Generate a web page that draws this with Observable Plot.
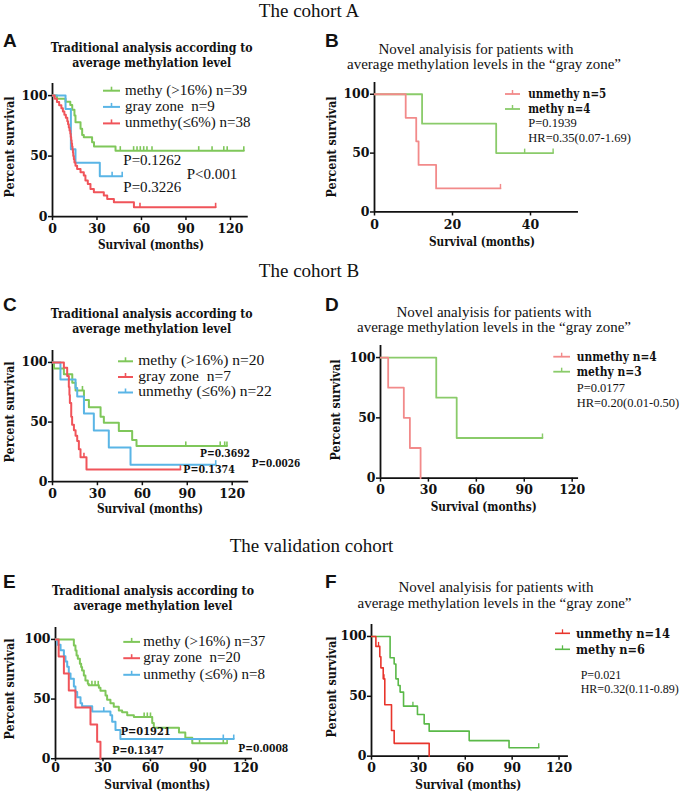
<!DOCTYPE html>
<html><head><meta charset="utf-8">
<script src="https://cdn.jsdelivr.net/npm/d3@7"></script>
<script src="https://cdn.jsdelivr.net/npm/@observablehq/plot@0.6"></script>
<style>
body{margin:0;background:#fff;}
#page{position:relative;width:685px;height:794px;overflow:hidden;background:#fff;}
#overlay{position:absolute;left:0;top:0;}
</style></head><body><div id="page"></div>
<script>
// ===== DATA (months, percent survival) =====
// Cohort A
const aMethySteps = [[0,100],[3,97.4],[8.8,94.9],[12,92.3],[13.3,88.4],[14.8,83.5],[15.5,78],[18.9,72.5],[20,67.5],[21.1,65.5],[26.7,61.5],[28,58],[42.5,54.5]];
const aMethyEnd = 129;
const aMethyCensor = [45.7,54.7,57,59.2,61.5,63.7,67.1,98.6,107.6,115.5,117.8,129];
const aGraySteps = [[0,100],[8.8,88.9],[12.4,55.6],[15.5,44.4],[31.9,33.3]];
const aGrayEnd = 47;
const aGrayCensor = [40.2,47];
const aUnmethySteps = [[0,100],[1.5,97.4],[3,94.7],[4.5,92.1],[6,89.5],[7,86.8],[8,84.2],[9,81.6],[10,78.9],[10.5,76.3],[11,73.7],[11.5,71.1],[12,68.4],[12.3,65.8],[12.6,63.2],[12.9,60.5],[13.2,57.9],[13.5,55.3],[13.8,52.6],[14,50],[14.4,47.4],[14.8,44.7],[15.5,42.1],[16.6,39.4],[18.9,36.6],[21.1,33.9],[22.2,29.8],[23.8,27],[25.6,22.9],[27.9,20.1],[34.6,17.4],[36.9,14.6],[41.4,11.8],[54.9,7.7]];
const aUnmethyEnd = 110;
const aUnmethyCensor = [59,110];
// Cohort A, gray zone split
const bUnmethySteps = [[0,100],[8,80],[10.7,60],[11.3,40],[15.8,20]];
const bUnmethyEnd = 32.3;
const bUnmethyCensor = [32.3];
const bMethySteps = [[0,100],[12.2,75],[31.2,50]];
const bMethyEnd = 45.8;
const bMethyCensor = [38.5,45.8];
// Cohort B
const cMethySteps = [[0,100],[1,95],[7.6,90],[13.2,83],[15.4,76.5],[21,68.5],[24.3,62.5],[32.1,54.5],[34.3,49.5],[44.3,42.5],[53.2,35],[56.1,30]];
const cMethyEnd = 116.5;
const cMethyCensor = [20,89,112,115,116.5];
const cGraySteps = [[0,100],[7.6,95.5],[9.8,88.6],[10.9,79.5],[11.3,72.7],[11.6,65.9],[12.5,54.5],[13.1,47.7],[14.3,43.2],[15.4,38.6],[16.5,34.1],[17.6,27.3],[18.7,20.5],[22.7,10.2]];
const cGrayEnd = 85.4;
const cGrayCensor = [21,85.4];
const cUnmethySteps = [[0,100],[5.3,85.7],[15.4,78.6],[16.5,71.4],[21,57.1],[27.6,42.9],[37.6,28.6],[52.1,14.3]];
const cUnmethyEnd = 109;
const cUnmethyCensor = [109];
// Cohort B, gray zone split
const dUnmethySteps = [[0,100],[4.8,75],[14.6,50],[18.4,25],[25.1,0]];
const dUnmethyEnd = 25.1;
const dUnmethyCensor = [];
const dMethySteps = [[0,100],[34.9,66.7],[47.7,33.3]];
const dMethyEnd = 101.4;
const dMethyCensor = [101.4];
// Validation cohort
const eMethySteps = [[0,100],[11.6,95],[12.6,90.8],[13.3,86.6],[14.1,83.8],[15.4,79.6],[16.2,76.8],[16.8,74],[17.9,69.8],[18.9,65.6],[20.4,62.8],[21,61.5],[27.4,59.5],[28.4,57],[31.6,53],[32.6,49.5],[34.7,46.5],[36.8,43.5],[40,40.5],[42.1,39],[45.3,36.5],[49.5,35],[61.1,30],[62.1,26],[78,22],[82,17.5],[86.4,13]];
const eMethyEnd = 108.4;
const eMethyCensor = [23,25,27,56,58,60,91,106,108.4];
const eGraySteps = [[0,100],[2,85.7],[5.3,71.4],[8.4,57.1],[12.6,42.9],[22.1,28.6],[26.3,14.3],[28.4,0]];
const eGrayEnd = 28.4;
const eGrayCensor = [];
const eUnmethySteps = [[0,100],[1.1,95.5],[3.2,91],[5.3,86],[6.3,81.5],[7.4,77],[8.4,71.5],[9.5,67],[11.6,60.5],[12.6,56],[13.7,51.5],[15.8,46.5],[16.8,44],[23.2,39.5],[34.7,36.5],[35.8,31],[37.9,24],[41,16.5]];
const eUnmethyEnd = 112.6;
const eUnmethyCensor = [30.5,106,112.6];
// Validation cohort, gray zone split
const fUnmethySteps = [[0,100],[2.8,91.7],[5.3,83],[6,73.8],[7.5,64.6],[8.5,43],[12.8,21.4],[14.5,10.7],[36.9,0]];
const fUnmethyEnd = 36.9;
const fUnmethyCensor = [4.5,8];
const fMethySteps = [[0,100],[11.9,82.2],[14.5,77],[15.6,64.6],[17.1,59],[18.3,53.5],[20.5,41.8],[29.4,34.8],[33.7,27],[36.9,20.9],[62.5,13],[88,7]];
const fMethyEnd = 107;
const fMethyCensor = [26.5,107];

const yTicks = [0,50,100];
const xTicks120 = [0,30,60,90,120];
const xTicks40 = [0,20,40];

// Texts
const headers = ["The cohort A","The cohort B","The validation cohort"];
const titleTrad = ["Traditional analysis according to","average methylation level"];
const titleNovel = ["Novel analyisis for patients with","average methylation levels in the \u201cgray zone\u201d"];
const yLabel = "Percent survival";
const xLabel = "Survival (months)";
const legendA = ["methy (>16%) n=39","gray zone  n=9","unmethy(\u22646%) n=38"];
const legendB = ["unmethy n=5","methy n=4"];
const statsB = ["P=0.1939","HR=0.35(0.07-1.69)"];
const legendC = ["methy (>16%) n=20","gray zone  n=7","unmethy (\u22646%) n=22"];
const legendD = ["unmethy n=4","methy n=3"];
const statsD = ["P=0.0177","HR=0.20(0.01-0.50)"];
const legendE = ["methy (>16%) n=37","gray zone  n=20","unmethy (\u22646%) n=8"];
const legendF = ["unmethy n=14","methy n=6"];
const statsF = ["P=0.021","HR=0.32(0.11-0.89)"];
const pA = ["P=0.1262","P<0.001","P=0.3226"];
const pC = ["P=0.3692","P=0.0026","P=0.1374"];
const pE = ["P=01921","P=0.1347","P=0.0008"];

// ===== STYLE =====
const SERIF = "Liberation Serif";
const BSERIF = "DejaVu Serif";
const SANS = "Liberation Sans";
const GREEN = "#7fc75a", BLUE = "#5ab5e6", RED = "#f0545a";
const RED_L = "#f28a8a", GREEN_L = "#8acb6a";
const RED_F = "#e8352c", GREEN_F = "#5ab948";
const INK = "#111";

const tickSymbol = {draw(ctx){ ctx.moveTo(0,0); ctx.lineTo(0,-4.5); }};
function stepAt(steps, t){ let s = steps[0][1]; for (const [x,y] of steps) if (x <= t) s = y; return s; }

const page = document.getElementById("page");
const Y_MAX = 110;

function makePanel(p){
  const mL = 40, mR = 28, mT = 6, mB = 32;
  const w = mL + p.xmax * p.ppm + mR;
  const h = mT + Y_MAX * p.ppp + mB;
  const marks = [
    Plot.ruleY([0], {stroke: INK, strokeWidth: 1.8}),
    Plot.ruleX([0], {stroke: INK, strokeWidth: 1.8})
  ];
  for (const s of p.series){
    const pts = s.steps.concat([[s.end, s.steps[s.steps.length-1][1]]]);
    marks.push(Plot.line(pts, {x: d => d[0], y: d => d[1], curve: "step-after", stroke: s.color, strokeWidth: p.lw}));
    if (s.censor.length){
      marks.push(Plot.dot(s.censor.map(t => [t, stepAt(s.steps, t)]), {x: d => d[0], y: d => d[1], symbol: tickSymbol, r: 3, fill: "none", stroke: s.color, strokeWidth: p.lw * 0.8}));
    }
  }
  marks.push(
    Plot.axisX({ticks: p.xticks, tickSize: p.xTickSize, tickPadding: p.xTickPad, label: null, stroke: INK, strokeWidth: 1.5, fill: INK}),
    Plot.axisY({ticks: yTicks, tickSize: 4, tickPadding: 1, label: null, stroke: INK, strokeWidth: 1.5, fill: INK})
  );
  const svg = Plot.plot({
    width: w, height: h,
    marginLeft: mL, marginRight: mR, marginTop: mT, marginBottom: mB,
    x: {domain: [0, p.xmax]},
    y: {domain: [0, Y_MAX]},
    style: {fontFamily: BSERIF, fontSize: "12.5px", fontWeight: "bold", background: "transparent", maxWidth: "none", overflow: "visible"},
    marks
  });
  svg.style.position = "absolute";
  svg.style.left = (p.x0 - mL) + "px";
  svg.style.top = (p.y0 - Y_MAX * p.ppp - mT) + "px";
  page.appendChild(svg);
}

const panels = [
  {x0: 52, ppm: 1.483, xmax: 132, xticks: xTicks120, xTickSize: 4, xTickPad: 4, y0: 216, ppp: 1.21, lw: 2, series: [
    {steps: aMethySteps, end: aMethyEnd, censor: aMethyCensor, color: GREEN},
    {steps: aGraySteps, end: aGrayEnd, censor: aGrayCensor, color: BLUE},
    {steps: aUnmethySteps, end: aUnmethyEnd, censor: aUnmethyCensor, color: RED}]},
  {x0: 374, ppm: 3.9, xmax: 52.3, xticks: xTicks40, xTickSize: 4, xTickPad: 4, y0: 211.7, ppp: 1.177, lw: 1.8, series: [
    {steps: bMethySteps, end: bMethyEnd, censor: bMethyCensor, color: GREEN_L},
    {steps: bUnmethySteps, end: bUnmethyEnd, censor: bUnmethyCensor, color: RED_L}]},
  {x0: 52, ppm: 1.4975, xmax: 131, xticks: xTicks120, xTickSize: 4, xTickPad: 3, y0: 481, ppp: 1.193, lw: 2, series: [
    {steps: cMethySteps, end: cMethyEnd, censor: cMethyCensor, color: GREEN},
    {steps: cUnmethySteps, end: cUnmethyEnd, censor: cUnmethyCensor, color: BLUE},
    {steps: cGraySteps, end: cGrayEnd, censor: cGrayCensor, color: RED}]},
  {x0: 380, ppm: 1.5975, xmax: 124, xticks: xTicks120, xTickSize: 4, xTickPad: 3, y0: 477.3, ppp: 1.206, lw: 1.8, series: [
    {steps: dMethySteps, end: dMethyEnd, censor: dMethyCensor, color: GREEN_L},
    {steps: dUnmethySteps, end: dUnmethyEnd, censor: dUnmethyCensor, color: RED_L}]},
  {x0: 55, ppm: 1.583, xmax: 124.4, xticks: xTicks120, xTickSize: 3, xTickPad: 1, y0: 758.3, ppp: 1.193, lw: 2, series: [
    {steps: eMethySteps, end: eMethyEnd, censor: eMethyCensor, color: GREEN},
    {steps: eUnmethySteps, end: eUnmethyEnd, censor: eUnmethyCensor, color: BLUE},
    {steps: eGraySteps, end: eGrayEnd, censor: eGrayCensor, color: RED}]},
  {x0: 370.7, ppm: 1.563, xmax: 126, xticks: xTicks120, xTickSize: 4, xTickPad: 3, y0: 755.7, ppp: 1.197, lw: 1.6, series: [
    {steps: fMethySteps, end: fMethyEnd, censor: fMethyCensor, color: GREEN_F},
    {steps: fUnmethySteps, end: fUnmethyEnd, censor: fUnmethyCensor, color: RED_F}]}
];
panels.forEach(makePanel);

// ===== Annotation overlay (titles, labels, legends) =====
const ov = d3.select("#page").append("svg").attr("id","overlay").attr("width",685).attr("height",794);

// o.w: target width (bold serif is drawn with DejaVu Serif Bold, condensed to the reference width)
function txt(x, y, s, o = {}){
  const bold = o.weight === "bold";
  const fam = o.family || (bold ? BSERIF : SERIF);
  const t = ov.append("text").attr("x", x).attr("y", y).text(s)
    .attr("font-family", fam).attr("font-size", o.size || 15)
    .attr("font-weight", bold ? "bold" : "normal")
    .attr("text-anchor", o.anchor || "start")
    .attr("fill", o.fill || INK).style("white-space", "pre");
  if (o.w) t.attr("textLength", o.w).attr("lengthAdjust", "spacingAndGlyphs");
  return t;
}
function vtxt(x, y, s, w){
  ov.append("text").attr("transform", `translate(${x},${y}) rotate(-90)`).text(s)
    .attr("font-family", BSERIF).attr("font-weight", "bold").attr("font-size", 13.2)
    .attr("textLength", w).attr("lengthAdjust", "spacingAndGlyphs")
    .attr("text-anchor", "middle").attr("dominant-baseline", "central").attr("fill", INK);
}
function swatch(x1, x2, y, color, lw){
  ov.append("line").attr("x1", x1).attr("x2", x2).attr("y1", y).attr("y2", y).attr("stroke", color).attr("stroke-width", lw);
  const xm = (x1 + x2) / 2;
  ov.append("line").attr("x1", xm).attr("x2", xm).attr("y1", y).attr("y2", y - 4).attr("stroke", color).attr("stroke-width", lw * 0.8);
}

// headers
txt(309, 17, headers[0], {size: 19, anchor: "middle"});
txt(309, 277, headers[1], {size: 19, anchor: "middle"});
txt(311.5, 552, headers[2], {size: 19, anchor: "middle"});
// panel letters
[["A",3,46.5],["B",325,46.5],["C",3,310.8],["D",325,310.8],["E",3,588],["F",325,588]]
  .forEach(([l,x,y]) => txt(x, y, l, {family: SANS, size: 19, weight: "bold"}));
// titles
const T1 = {size: 13.4, weight: "bold", anchor: "middle", w: 202};
const T2 = {size: 13.4, weight: "bold", anchor: "middle", w: 159};
txt(151.7, 51.7, titleTrad[0], T1); txt(151.7, 66.7, titleTrad[1], T2);
txt(151.7, 318.3, titleTrad[0], T1); txt(151.7, 333.3, titleTrad[1], T2);
txt(153, 595, titleTrad[0], T1); txt(153, 610, titleTrad[1], T2);
txt(476, 54.2, titleNovel[0], {size: 15, anchor: "middle"});
txt(484, 69.4, titleNovel[1], {size: 15, anchor: "middle"});
txt(494, 316.6, titleNovel[0], {size: 15, anchor: "middle"});
txt(494, 331.8, titleNovel[1], {size: 15, anchor: "middle"});
txt(496, 592.3, titleNovel[0], {size: 15, anchor: "middle"});
txt(494.5, 607.5, titleNovel[1], {size: 15, anchor: "middle"});
// axis labels
[[9,147],[331,147],[9,412],[335,410],[9,689],[331,687]].forEach(([x,y]) => vtxt(x, y, yLabel, 101));
[[151,249],[482,245.7],[150,513.3],[483.7,510.7],[157.3,789],[468.3,788.5]].forEach(([x,y]) => txt(x, y, xLabel, {size: 13, weight: "bold", anchor: "middle", w: 106}));

// legends
const legA = [[GREEN,94.5,90.7],[BLUE,110.5,106.9],[RED,127,123.4]];
legendA.forEach((s,i) => { swatch(103, 120, legA[i][2], legA[i][0], 2); txt(125, legA[i][1], s, {size: 15}); });
const legC = [[GREEN,365,361.3],[RED,380.7,377],[BLUE,396.3,392.5]];
legendC.forEach((s,i) => { swatch(118, 133, legC[i][2], legC[i][0], 2); txt(138.3, legC[i][1], s, {size: 15.5}); });
const legE = [[GREEN,645.8,641.9],[RED,662,658.2],[BLUE,678.5,674.8]];
legendE.forEach((s,i) => { swatch(123.3, 140, legE[i][2], legE[i][0], 2); txt(143.3, legE[i][1], s, {size: 15}); });

const legB = [[RED_L,97.7,94,78],[GREEN_L,112.7,109,62]];
legendB.forEach((s,i) => { swatch(505, 520, legB[i][2], legB[i][0], 1.8); txt(528.3, legB[i][1], s, {size: 12.8, weight: "bold", w: legB[i][3]}); });
txt(528.3, 126.7, statsB[0], {size: 12.5}); txt(528.3, 141.7, statsB[1], {size: 12.5});
const legD = [[RED_L,361,356.7,80],[GREEN_L,376,371.7,65]];
legendD.forEach((s,i) => { swatch(553.3, 570, legD[i][2], legD[i][0], 1.8); txt(576.7, legD[i][1], s, {size: 12.8, weight: "bold", w: legD[i][3]}); });
txt(576.7, 391.7, statsD[0], {size: 12.5}); txt(576.7, 406.7, statsD[1], {size: 12.5});
const legF = [[RED_F,637.5,633.3,94],[GREEN_F,653.5,649.3,69]];
legendF.forEach((s,i) => { swatch(555, 570, legF[i][2], legF[i][0], 1.6); txt(576, legF[i][1], s, {size: 12.8, weight: "bold", w: legF[i][3]}); });
txt(580.7, 679.3, statsF[0], {size: 12}); txt(580.7, 692.7, statsF[1], {size: 12});

// p-values
const PA = {size: 15};
txt(123.3, 165, pA[0], PA); txt(186.7, 179, pA[1], PA); txt(123.3, 191.7, pA[2], PA);
const PB = {size: 11.8, weight: "bold"};
txt(200, 456.7, pC[0], {...PB, w: 50}); txt(251.7, 466.7, pC[1], {...PB, w: 48.5}); txt(183.3, 473.3, pC[2], {...PB, w: 51.5});
txt(120.7, 735, pE[0], {...PB, w: 50}); txt(112.3, 754, pE[1], {...PB, w: 51.5}); txt(238.3, 752.3, pE[2], {...PB, w: 50});
</script>
</body></html>
